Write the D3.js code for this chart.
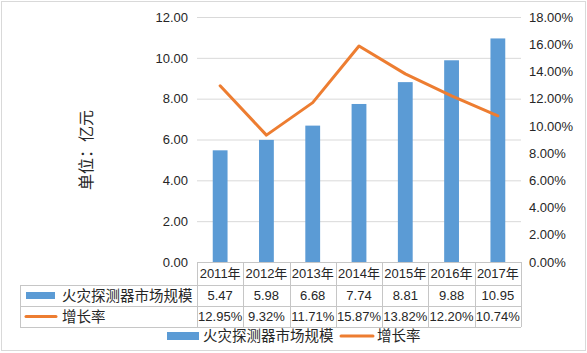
<!DOCTYPE html>
<html>
<head>
<meta charset="utf-8">
<script src="https://cdn.jsdelivr.net/npm/d3@7"></script>
<style>
  body { margin: 0; background: #fff; }
  text { fill: #262626; }
</style>
</head>
<body>
<div id="chart"></div>
<script>
// Data
const years = ["2011年", "2012年", "2013年", "2014年", "2015年", "2016年", "2017年"];
const marketSize = [5.47, 5.98, 6.68, 7.74, 8.81, 9.88, 10.95];
const growthRate = [12.95, 9.32, 11.71, 15.87, 13.82, 12.20, 10.74];
const leftTicks = [0, 2, 4, 6, 8, 10, 12];
const rightTicks = [0, 2, 4, 6, 8, 10, 12, 14, 16, 18];
const seriesNames = ["火灾探测器市场规模", "增长率"];

const W = 587, H = 353;
const plot = { left: 197, right: 521, top: 17, bottom: 262 };
const rowH = [262, 285, 306, 327]; // table row lines
const numFont = "'Liberation Sans', Arial, 'Noto Sans CJK SC', sans-serif";
const cjkFont = "'Noto Sans CJK SC', sans-serif";
const barColor = "#5B9BD5", lineColor = "#ED7D31", gridColor = "#d9d9d9", tableColor = "#c6c6c6";

const svg = d3.select("#chart").append("svg")
    .attr("width", W)
    .attr("height", H);

// outer border
svg.append("rect")
    .attr("x", 1.5).attr("y", 1.5)
    .attr("width", W - 3).attr("height", H - 4)
    .attr("fill", "none")
    .attr("stroke", gridColor);

const x = d3.scaleBand()
    .domain(years)
    .range([plot.left, plot.right]);

const yL = d3.scaleLinear().domain([0, 12]).range([plot.bottom, plot.top]);
const yR = d3.scaleLinear().domain([0, 18]).range([plot.bottom, plot.top]);

// gridlines
svg.append("g")
    .attr("transform", `translate(${plot.left},0)`)
    .call(d3.axisLeft(yL).tickValues(leftTicks).tickSize(-(plot.right - plot.left)).tickFormat(""))
    .call(g => g.select(".domain").remove())
    .call(g => g.selectAll("line").attr("stroke", gridColor).filter(d => d === 0).remove());

// left axis labels
svg.append("g")
    .attr("transform", `translate(${plot.left},0)`)
    .call(d3.axisLeft(yL).tickValues(leftTicks).tickSize(0).tickPadding(9).tickFormat(d3.format(".2f")))
    .call(g => g.select(".domain").remove())
    .call(g => g.selectAll("text").attr("font-family", numFont).attr("font-size", 13).attr("fill", "#262626"));

// right axis labels
svg.append("g")
    .attr("transform", `translate(${plot.right},0)`)
    .call(d3.axisRight(yR).tickValues(rightTicks).tickSize(0).tickPadding(8).tickFormat(d => d3.format(".2f")(d) + "%"))
    .call(g => g.select(".domain").remove())
    .call(g => g.selectAll("text").attr("font-family", numFont).attr("font-size", 13).attr("fill", "#262626"));

// left axis title
svg.append("text")
    .attr("transform", `translate(86,150) rotate(-90)`)
    .attr("text-anchor", "middle")
    .attr("dy", "0.36em")
    .attr("font-family", cjkFont)
    .attr("font-size", 16)
    .text("单位：亿元");

// bars
const barW = x.bandwidth() * 0.32;
svg.selectAll(".bar")
    .data(marketSize)
    .enter().append("rect")
    .attr("class", "bar")
    .attr("x", (d, i) => x(years[i]) + x.bandwidth() / 2 - barW / 2)
    .attr("y", d => yL(d))
    .attr("width", barW)
    .attr("height", d => yL(0) - yL(d))
    .attr("fill", barColor);

// growth line
const line = d3.line()
    .x((d, i) => x(years[i]) + x.bandwidth() / 2)
    .y(d => yR(d));
svg.append("path")
    .datum(growthRate)
    .attr("fill", "none")
    .attr("stroke", lineColor)
    .attr("stroke-width", 3)
    .attr("stroke-linejoin", "round")
    .attr("stroke-linecap", "round")
    .attr("d", line);

// data table
const table = svg.append("g").attr("stroke", tableColor).attr("stroke-width", 1);
table.append("line").attr("x1", plot.left).attr("x2", plot.right).attr("y1", rowH[0] + 0.5).attr("y2", rowH[0] + 0.5);
rowH.slice(1).forEach(y => {
    table.append("line").attr("x1", 20).attr("x2", plot.right).attr("y1", y + 0.5).attr("y2", y + 0.5);
});
table.append("line").attr("x1", 20.5).attr("x2", 20.5).attr("y1", rowH[1]).attr("y2", rowH[3]);
x.domain().concat([null]).forEach((yr, i) => {
    const xx = Math.round(plot.left + i * x.step()) + 0.5;
    table.append("line").attr("x1", xx).attr("x2", xx).attr("y1", rowH[0]).attr("y2", rowH[3]);
});

const cellText = (vals, row, fmt) => {
    svg.append("g").selectAll("text")
        .data(vals)
        .enter().append("text")
        .attr("x", (d, i) => x(years[i]) + x.bandwidth() / 2)
        .attr("y", (rowH[row] + rowH[row + 1]) / 2)
        .attr("dy", "0.36em")
        .attr("text-anchor", "middle")
        .attr("font-family", numFont)
        .attr("font-size", 13)
        .text(fmt);
};
cellText(years, 0, d => d);
cellText(marketSize, 1, d => d3.format(".2f")(d));
cellText(growthRate, 2, d => d3.format(".2f")(d) + "%");

// table legend keys
const r1 = (rowH[1] + rowH[2]) / 2, r2 = (rowH[2] + rowH[3]) / 2;
svg.append("rect").attr("x", 26).attr("y", r1 - 3.5).attr("width", 29).attr("height", 7).attr("fill", barColor);
svg.append("line").attr("x1", 26).attr("x2", 56).attr("y1", r2).attr("y2", r2)
    .attr("stroke", lineColor).attr("stroke-width", 3).attr("stroke-linecap", "round");
svg.append("text").attr("x", 62).attr("y", r1).attr("dy", "0.36em")
    .attr("font-family", cjkFont).attr("font-size", 14.5).text(seriesNames[0]);
svg.append("text").attr("x", 62).attr("y", r2).attr("dy", "0.36em")
    .attr("font-family", cjkFont).attr("font-size", 14.5).text(seriesNames[1]);

// bottom legend
const ly = 336;
svg.append("rect").attr("x", 167).attr("y", ly - 4).attr("width", 32).attr("height", 8).attr("fill", barColor);
svg.append("text").attr("x", 203).attr("y", ly).attr("dy", "0.36em")
    .attr("font-family", cjkFont).attr("font-size", 14.5).text(seriesNames[0]);
svg.append("line").attr("x1", 341).attr("x2", 373).attr("y1", ly).attr("y2", ly)
    .attr("stroke", lineColor).attr("stroke-width", 3).attr("stroke-linecap", "round");
svg.append("text").attr("x", 377).attr("y", ly).attr("dy", "0.36em")
    .attr("font-family", cjkFont).attr("font-size", 14.5).text(seriesNames[1]);
</script>
</body>
</html>
